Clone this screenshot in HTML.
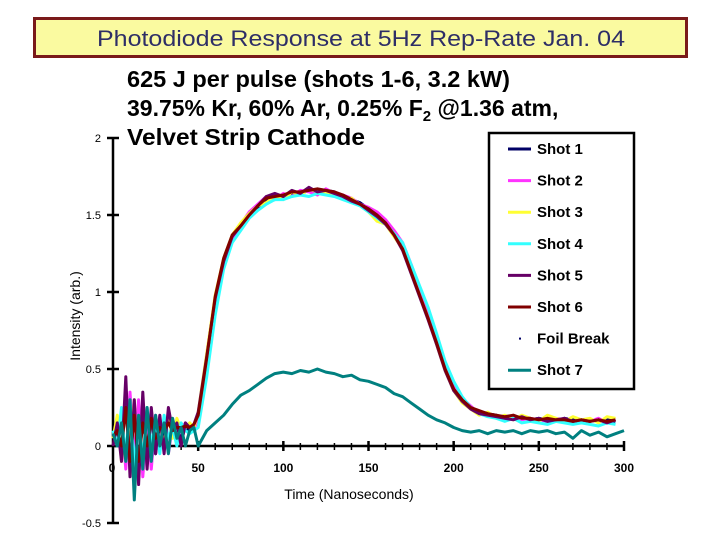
<!DOCTYPE html>
<html><head><meta charset="utf-8">
<style>
body{margin:0;background:#fff;width:720px;height:540px;overflow:hidden;font-family:"Liberation Sans",Arial,sans-serif;}
svg{display:block}
</style></head>
<body>
<svg id="chart" width="720" height="540" viewBox="0 0 720 540" xmlns="http://www.w3.org/2000/svg">
  <rect x="34.5" y="18.5" width="652" height="38" fill="#fafaa0" stroke="#7a1a1a" stroke-width="3"/>
  <text x="97" y="46" textLength="528" lengthAdjust="spacingAndGlyphs" font-size="22" fill="#2e2e66" font-family="Liberation Sans, sans-serif">Photodiode Response at 5Hz Rep-Rate Jan. 04</text>
  <g font-size="23" font-weight="bold" fill="#000">
    <text x="127" y="87" textLength="383" lengthAdjust="spacingAndGlyphs">625 J per pulse (shots 1-6, 3.2 kW)</text>
    <text x="127" y="116">39.75% Kr, 60% Ar, 0.25% F<tspan font-size="15" dy="5">2</tspan><tspan dy="-5"> @1.36 atm,</tspan></text>
    <text x="127" y="145" textLength="238" lengthAdjust="spacingAndGlyphs">Velvet Strip Cathode</text>
  </g>
  <g id="axes"></g>
  <g id="series"></g>
  <g>
    <rect x="489" y="133" width="145" height="256" fill="#fff" stroke="#000" stroke-width="2.5"/>
    <g id="legend-items"></g>
  </g>
  <text x="349" y="499" text-anchor="middle" font-size="14" fill="#000">Time (Nanoseconds)</text>
  <text transform="translate(80,316) rotate(-90)" text-anchor="middle" font-size="14" fill="#000">Intensity (arb.)</text>
</svg>
<script>
const times=[0,2.5,5,7.5,10,12.5,15,17.5,20,22.5,25,27.5,30,32.5,35,37.5,40,42.5,45,47.5,50,
55,60,65,70,75,80,85,90,95,100,105,110,115,120,125,130,135,140,145,150,155,160,165,170,175,180,185,190,195,200,205,210,215,220,225,230,235,240,245,250,255,260,265,270,275,280,285,290,295,300];
const shot1=[0.05,0.1,-0.05,0.3,-0.1,0.25,-0.15,0.2,0.0,0.2,-0.05,0.15,0.05,0.2,0.1,0.15,0.05,0.12,0.1,0.12,0.18,
0.55,0.95,1.2,1.35,1.42,1.5,1.55,1.6,1.6,1.62,1.63,1.64,1.66,1.64,1.66,1.65,1.62,1.6,1.58,1.54,1.5,1.45,1.38,1.3,1.15,1.0,0.85,0.68,0.5,0.37,0.3,0.25,0.22,0.21,0.2,0.18,0.19,0.18,0.17,0.18,0.17,0.16,0.18,0.17,0.16,0.17,0.16,0.17,0.16];
const shot2=[0.08,0.0,0.2,-0.15,0.35,-0.1,0.3,-0.2,0.15,-0.15,0.2,0.0,0.18,-0.05,0.15,0.05,0.1,0.15,0.12,0.1,0.2,
0.5,0.9,1.18,1.33,1.44,1.52,1.57,1.62,1.6,1.64,1.62,1.66,1.65,1.63,1.67,1.64,1.63,1.61,1.57,1.55,1.52,1.47,1.4,1.32,1.18,1.03,0.88,0.72,0.54,0.4,0.31,0.26,0.21,0.2,0.19,0.17,0.2,0.17,0.18,0.17,0.16,0.18,0.17,0.15,0.17,0.16,0.18,0.15,0.17];
const shot3=[0.05,0.2,-0.1,0.35,-0.05,0.3,-0.2,0.25,-0.05,0.2,0.05,0.15,0.0,0.2,0.05,0.18,0.1,0.12,0.15,0.12,0.22,
0.6,0.98,1.22,1.37,1.45,1.51,1.56,1.58,1.62,1.6,1.65,1.63,1.67,1.65,1.64,1.63,1.6,1.61,1.56,1.52,1.46,1.44,1.36,1.28,1.13,0.98,0.83,0.66,0.49,0.36,0.28,0.24,0.2,0.22,0.18,0.2,0.17,0.2,0.18,0.16,0.2,0.18,0.16,0.19,0.17,0.18,0.15,0.19,0.18];
const shot4=[0.1,0.0,0.25,-0.1,0.3,-0.15,0.2,-0.1,0.25,0.0,0.15,-0.05,0.2,0.05,0.12,0.0,0.15,0.1,0.08,0.1,0.12,
0.45,0.85,1.15,1.32,1.4,1.48,1.53,1.57,1.6,1.6,1.62,1.63,1.62,1.64,1.63,1.62,1.6,1.58,1.56,1.52,1.48,1.44,1.38,1.32,1.18,1.04,0.9,0.73,0.55,0.42,0.32,0.25,0.21,0.19,0.18,0.16,0.18,0.15,0.16,0.15,0.14,0.16,0.15,0.14,0.15,0.14,0.13,0.15,0.14];
const shot5=[0.0,0.15,-0.1,0.45,-0.2,0.3,-0.25,0.35,-0.15,0.25,-0.05,0.2,-0.05,0.25,0.1,0.15,0.0,0.15,0.12,0.14,0.22,
0.58,0.96,1.2,1.36,1.43,1.5,1.56,1.62,1.64,1.62,1.66,1.64,1.68,1.65,1.66,1.64,1.62,1.59,1.57,1.53,1.49,1.44,1.37,1.27,1.12,0.97,0.82,0.66,0.49,0.36,0.29,0.24,0.21,0.2,0.19,0.18,0.17,0.19,0.17,0.18,0.16,0.17,0.18,0.16,0.17,0.16,0.17,0.15,0.17];
const shot6=[0.06,0.1,0.0,0.25,-0.1,0.2,-0.1,0.15,0.0,0.18,0.05,0.12,0.1,0.15,0.1,0.12,0.12,0.13,0.12,0.14,0.2,
0.57,0.97,1.22,1.37,1.43,1.5,1.56,1.61,1.62,1.63,1.65,1.65,1.66,1.67,1.66,1.65,1.63,1.6,1.57,1.54,1.5,1.45,1.37,1.28,1.13,0.98,0.83,0.67,0.5,0.37,0.3,0.25,0.23,0.21,0.2,0.19,0.2,0.18,0.18,0.17,0.18,0.17,0.17,0.16,0.17,0.16,0.17,0.16,0.17];
const shot7=[0.08,0.0,0.15,-0.1,0.3,-0.35,0.2,-0.15,0.25,-0.1,0.2,0.0,0.15,-0.05,0.18,0.05,0.12,0.0,0.1,0.12,0.0,
0.1,0.15,0.2,0.27,0.33,0.36,0.4,0.44,0.47,0.48,0.47,0.49,0.48,0.5,0.48,0.47,0.45,0.46,0.43,0.42,0.4,0.38,0.34,0.32,0.28,0.24,0.2,0.17,0.15,0.12,0.1,0.09,0.1,0.08,0.1,0.09,0.1,0.08,0.1,0.09,0.1,0.08,0.09,0.05,0.1,0.07,0.09,0.06,0.08,0.1];
const xTicks=[50,100,150,200,250,300];
const yTicks=[-0.5,0,0.5,1,1.5,2];
const yTickLabels=["-0.5","0","0.5","1","1.5","2"];
const seriesNames=["Shot 1","Shot 2","Shot 3","Shot 4","Shot 5","Shot 6","Shot 7"];
const seriesColors=["#000066","#ff33ff","#ffff33","#33ffff","#660066","#800000","#008080"];
const seriesData=[shot1,shot2,shot3,shot4,shot5,shot6,shot7];

const NS="http://www.w3.org/2000/svg";
const X=t=>113+t*(624-113)/300;
const Y=v=>446-v*154;
function mk(tag,attrs,parent){const e=document.createElementNS(NS,tag);for(const k in attrs)e.setAttribute(k,attrs[k]);parent.appendChild(e);return e;}
const axes=document.getElementById('axes');
let e=mk('line',{x1:113,y1:Y(2),x2:113,y2:Y(-0.5),stroke:'#000','stroke-width':2.5},axes);


e=mk('line',{x1:113,y1:446,x2:624,y2:446,stroke:'#000','stroke-width':2.5},axes);


yTicks.forEach((v,i)=>{
  mk('line',{x1:107,x2:119,y1:Y(v),y2:Y(v),stroke:'#000','stroke-width':2.5},axes);
  const t=mk('text',{x:101,y:Y(v)+4,'text-anchor':'end','font-size':11},axes);
  t.textContent=yTickLabels[i];
  
  
});
for(let t=10;t<=300;t+=10){
  const major=t%50===0;
  mk('line',{x1:X(t),x2:X(t),y1:major?441:443,y2:major?451:450,stroke:'#000','stroke-width':major?2.5:1.5},axes);
}
xTicks.forEach(v=>{
  const t=mk('text',{x:X(v),y:472,'text-anchor':'middle','font-size':12,'font-weight':'bold'},axes);
  t.textContent=v;
  
  
});
e=mk('text',{x:112,y:472,'text-anchor':'middle','font-size':12,'font-weight':'bold'},axes);
e.textContent='0';



const sg=document.getElementById('series');
seriesData.forEach((d,i)=>{
  const pts=d.map((v,j)=>X(times[j]).toFixed(1)+','+Y(v).toFixed(1)).join(' ');
  const p=mk('polyline',{points:pts,fill:'none',stroke:seriesColors[i],'stroke-width':3,'stroke-linejoin':'round'},sg);
  
  
});

const lg=document.getElementById('legend-items');
const legendLabels=["Shot 1","Shot 2","Shot 3","Shot 4","Shot 5","Shot 6","Foil Break","Shot 7"];
const legendColors=["#000066","#ff33ff","#ffff33","#33ffff","#660066","#800000","#000066","#008080"];
legendLabels.forEach((name,i)=>{
  const y=149+i*31.6;
  const g=mk('g',{},lg);
  
  
  if(name==='Foil Break') mk('rect',{x:519,y:y-1,width:2,height:2,fill:legendColors[i]},g);
  else mk('line',{x1:508,x2:531,y1:y,y2:y,stroke:legendColors[i],'stroke-width':3},g);
  const t=mk('text',{x:537,y:y+5,'font-size':15,'font-weight':'bold'},g);
  t.textContent=name;
});
</script>
</body></html>
